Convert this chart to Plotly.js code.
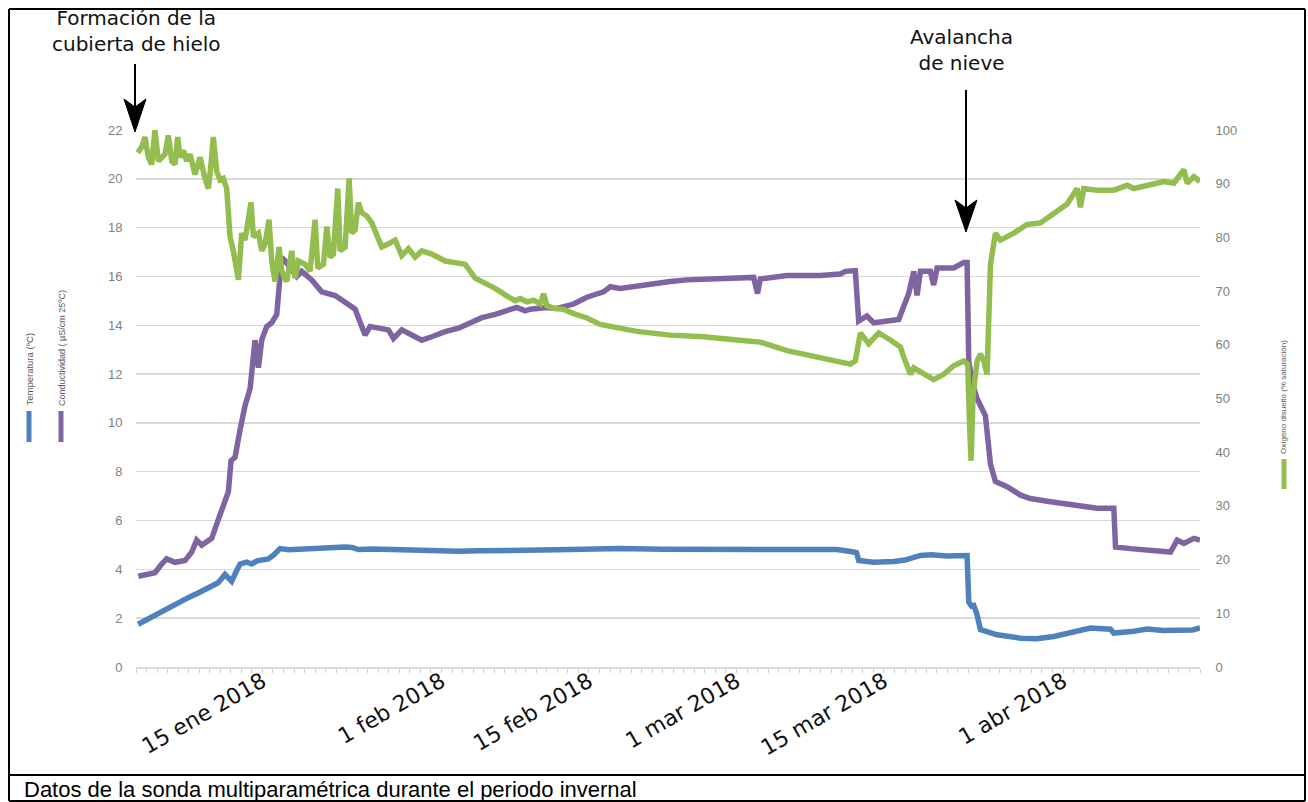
<!DOCTYPE html>
<html><head><meta charset="utf-8">
<script src="https://cdn.plot.ly/plotly-3.0.1.min.js"></script>
<style>html,body{margin:0;padding:0;background:#fff;} #chart{width:1308px;height:802px;}</style>
</head><body><div id="chart"></div>
<script>
// Día del año 2018 (1 = 1 ene)
const tickDias = [14, 31, 45, 59, 73, 90];
const tickTextos = ['15 ene 2018', '1 feb 2018', '15 feb 2018', '1 mar 2018', '15 mar 2018', '1 abr 2018'];

const diaTemp = [2.2,3.5,4.5,5.7,7.0,8.0,8.9,9.8,10.45,10.8,11.08,11.5,11.88,12.5,12.98,13.5,14.0,14.57,15.1,15.67,16.5,17.5,18.68,19.5,20.5,21.85,22.5,23.11,24.5,26.28,28.0,29.45,31.0,32.61,34.5,35.78,38.94,42.0,45.0,47.97,52.0,56.0,60.63,64.0,68.54,70.13,70.4,70.6,72.03,73.93,75.0,76.46,77.5,78.99,80.0,80.89,81.05,81.3,81.52,81.8,82.16,83.0,83.74,85.96,87.5,89.12,91.0,92.6,94.5,94.82,96.5,97.98,99.5,101.15,102.3,103.0];
const temperatura = [1.75,2.05,2.3,2.59,2.85,3.05,3.23,3.45,3.79,3.62,3.51,3.9,4.22,4.3,4.22,4.35,4.38,4.43,4.6,4.85,4.8,4.83,4.81,4.86,4.88,4.92,4.9,4.81,4.83,4.81,4.77,4.74,4.74,4.74,4.76,4.78,4.78,4.8,4.82,4.85,4.82,4.83,4.8,4.8,4.81,4.71,4.68,4.36,4.29,4.32,4.38,4.57,4.6,4.55,4.56,4.57,2.66,2.5,2.52,2.2,1.53,1.4,1.32,1.18,1.16,1.25,1.45,1.6,1.55,1.39,1.45,1.56,1.5,1.53,1.52,1.6];

const diaCond = [2.22,3.0,3.8,4.44,4.91,5.7,6.65,7.29,7.76,8.24,9.19,9.82,10.29,10.77,11.02,11.4,11.88,12.35,12.83,13.3,13.62,13.93,14.41,14.88,15.36,15.58,15.83,16.15,16.62,17.26,17.73,18.68,19.63,20.9,21.85,22.8,23.43,23.75,24.22,25.01,25.96,26.44,27.23,28.18,29.13,30.08,31.34,32.61,33.88,34.83,36.09,37.36,38.15,38.94,39.42,41.0,41.95,43.54,44.8,46.38,47.02,47.97,49.55,51.13,52.71,54.3,57.46,60.63,61.0,61.26,63.8,66.96,68.86,69.34,70.28,70.6,71.39,72.03,74.4,74.88,75.35,75.83,76.14,76.46,77.41,77.72,78.04,79.62,80.57,80.89,81.05,81.36,81.84,82.63,83.11,83.58,84.69,85.96,86.9,88.49,90.07,91.65,93.24,94.82,94.98,96.4,98.62,100.2,100.83,101.47,102.42,103.0];
const conductividad = [3.72,3.8,3.86,4.22,4.43,4.29,4.36,4.71,5.2,4.99,5.27,6.05,6.62,7.18,8.45,8.59,9.72,10.71,11.41,13.39,12.26,13.39,13.95,14.1,14.45,15.65,16.78,16.64,16.35,16.0,16.21,15.86,15.37,15.22,14.94,14.66,13.95,13.6,13.95,13.88,13.81,13.46,13.81,13.6,13.39,13.53,13.74,13.88,14.1,14.31,14.45,14.59,14.73,14.59,14.66,14.73,14.69,14.87,15.15,15.37,15.58,15.51,15.62,15.72,15.79,15.86,15.93,15.96,15.3,15.9,16.04,16.04,16.1,16.21,16.24,14.17,14.38,14.1,14.24,14.73,15.3,16.21,15.22,16.21,16.21,15.65,16.35,16.35,16.57,16.57,12.54,11.7,10.99,10.29,8.31,7.6,7.39,7.04,6.9,6.79,6.69,6.64,6.5,6.5,4.92,4.85,4.78,4.71,5.2,5.06,5.27,5.2];

const diaOxi = [2.16,2.54,2.85,3.17,3.49,3.8,4.12,4.44,4.75,5.07,5.39,5.7,5.96,6.18,6.5,6.81,7.13,7.6,8.08,8.55,8.87,9.12,9.34,9.66,9.98,10.29,10.61,10.93,11.24,11.72,12.03,12.35,12.92,13.14,13.62,13.93,14.25,14.63,14.88,15.2,15.58,15.83,16.31,16.78,17.1,17.42,18.05,18.52,19.0,19.25,19.79,20.11,20.42,20.74,21.15,21.37,21.85,22.23,22.48,22.8,23.11,23.43,23.9,24.38,25.01,25.33,25.96,26.6,27.23,27.86,28.5,29.13,30.08,30.71,31.34,32.29,33.24,34.19,35.14,36.09,37.04,37.99,38.47,39.1,39.74,40.37,40.69,41.0,41.64,42.59,43.54,44.8,46.07,47.65,49.55,52.71,55.88,59.05,61.26,63.8,66.96,69.81,70.28,70.76,71.55,72.5,73.61,74.56,74.88,75.51,75.83,76.77,77.72,78.67,79.62,80.57,80.95,81.14,81.27,81.46,81.84,82.16,82.47,82.79,83.11,83.58,84.06,85.32,86.59,87.85,89.12,90.39,91.34,91.65,91.97,93.24,94.82,96.09,96.72,97.98,99.57,100.52,101.47,101.78,102.42,103.0];
const oxigeno = [95.8,96.8,98.7,94.9,93.6,100,94.2,94.9,95.5,99.0,94.2,93.6,98.7,94.9,96.2,94.2,95.5,91.7,94.9,91.0,89.1,93.6,98.7,92.3,90.7,91.0,89.1,80.1,77.5,72.1,80.8,79.5,86.5,80.1,80.8,77.5,78.8,83.3,75.6,71.8,78.2,73.7,71.8,77.5,72.4,75.6,75.0,73.7,83.3,74.3,75.0,82.0,76.3,76.9,89.1,77.5,78.2,91.0,80.8,81.4,86.5,84.6,84.0,82.7,80.1,78.2,78.8,79.5,76.6,77.9,76.3,77.5,76.9,76.3,75.6,75.3,75.0,72.4,71.5,70.5,69.3,68.2,68.6,68.0,68.3,67.6,69.5,67.3,66.8,66.6,65.8,65.0,63.8,63.1,62.5,61.8,61.5,60.9,60.5,58.9,57.7,56.4,57.0,62.2,60.2,62.2,60.9,59.6,57.7,54.5,55.7,54.5,53.5,54.5,56.1,57.0,56.4,44.2,38.4,50.6,57.0,58.3,57.0,54.5,75.0,80.8,79.5,80.8,82.4,82.7,84.3,86.2,89.1,85.6,89.1,88.8,88.8,89.7,89.1,89.7,90.4,90.1,92.6,90.1,91.3,90.4];

const azul = '#4f81bd', morado = '#8064a2', verde = '#93bd4f';

const trazas = [
  {x: diaOxi, y: oxigeno, yaxis: 'y2', type: 'scatter', mode: 'lines', line: {color: verde, width: 5.5}},
  {x: diaCond, y: conductividad, type: 'scatter', mode: 'lines', line: {color: morado, width: 5.5}},
  {x: diaTemp, y: temperatura, type: 'scatter', mode: 'lines', line: {color: azul, width: 5.5}}
];

// pixel helpers for layout placement (plot area: x 136..1200, y 130..667)
const L = 136, R = 1200, T = 130, B = 667;
const px = v => (v - L) / (R - L);
const py = v => (B - v) / (B - T);
const pt = (x, y) => px(x).toFixed(5) + ',' + py(y).toFixed(5);
// dart-shaped arrow head (tip x,y; length; half width)
const cabeza = (x, y, len, hw) => 'M' + pt(x, y) + ' L' + pt(x - hw, y - len) + ' L' + pt(x, y - len + 8) + ' L' + pt(x + hw, y - len) + ' Z';

const grayFont = {family: 'Liberation Sans, Arial, sans-serif', size: 13, color: '#7f7f7f'};
const borde = {color: '#000', width: 2};

const layout = {
  width: 1308, height: 802, autosize: false,
  paper_bgcolor: '#fff', plot_bgcolor: '#fff',
  margin: {l: L, r: 1308 - R, t: T, b: 802 - B, pad: 0},
  showlegend: false,
  xaxis: {
    range: [2, 103], tickmode: 'array', tickvals: tickDias, ticktext: tickTextos,
    tickangle: -30, tickfont: {family: 'DejaVu Sans, sans-serif', size: 22, color: '#111'},
    ticklabelstandoff: -13,
    ticks: 'outside', ticklen: 4, tickcolor: '#d0d0d0', tickwidth: 1,
    minor: {tick0: 0, dtick: 1, ticks: 'outside', ticklen: 4, tickcolor: '#d0d0d0', tickwidth: 1, showgrid: false},
    showgrid: false, zeroline: false, showline: true, linecolor: '#d9d9d9', linewidth: 2
  },
  yaxis: {
    range: [0, 22], dtick: 2, tick0: 0, showgrid: true, gridcolor: '#d9d9d9', gridwidth: 1.5,
    zeroline: false, showline: false, ticks: 'outside', ticklen: 10, tickcolor: 'rgba(0,0,0,0)',
    tickfont: grayFont
  },
  yaxis2: {
    range: [0, 100], dtick: 10, tick0: 0, overlaying: 'y', side: 'right', showgrid: false,
    zeroline: false, showline: false, ticks: 'outside', ticklen: 12, tickcolor: 'rgba(0,0,0,0)',
    tickfont: grayFont
  },
  shapes: [
    {type: 'line', xref: 'paper', yref: 'paper', x0: px(9), x1: px(1305), y0: py(9), y1: py(9), line: borde},
    {type: 'line', xref: 'paper', yref: 'paper', x0: px(9), x1: px(9), y0: py(9), y1: py(801), line: borde},
    {type: 'line', xref: 'paper', yref: 'paper', x0: px(1305), x1: px(1305), y0: py(9), y1: py(801), line: borde},
    {type: 'line', xref: 'paper', yref: 'paper', x0: px(9), x1: px(1305), y0: py(775), y1: py(775), line: borde},
    {type: 'line', xref: 'paper', yref: 'paper', x0: px(9), x1: px(1305), y0: py(801), y1: py(801), line: borde},
    {type: 'line', xref: 'paper', yref: 'paper', x0: px(29), x1: px(29), y0: py(411), y1: py(442), line: {color: azul, width: 5}},
    {type: 'line', xref: 'paper', yref: 'paper', x0: px(61), x1: px(61), y0: py(411), y1: py(442), line: {color: morado, width: 5}},
    {type: 'line', xref: 'paper', yref: 'paper', x0: px(1284), x1: px(1284), y0: py(459), y1: py(489), line: {color: verde, width: 5}},
    // flechas
    {type: 'line', xref: 'paper', yref: 'paper', x0: px(135), x1: px(135), y0: py(64), y1: py(110), line: borde},
    {type: 'path', xref: 'paper', yref: 'paper', path: cabeza(135, 132, 33, 11), fillcolor: '#000', line: {color: '#000', width: 1}},
    {type: 'line', xref: 'paper', yref: 'paper', x0: px(966), x1: px(966), y0: py(90), y1: py(212), line: borde},
    {type: 'path', xref: 'paper', yref: 'paper', path: cabeza(966, 232, 32, 11), fillcolor: '#000', line: {color: '#000', width: 1}}
  ],
  annotations: [
    {xref: 'paper', yref: 'paper', x: px(136), y: py(31), text: 'Formación de la<br>cubierta de hielo', showarrow: false,
     xanchor: 'center', yanchor: 'middle', font: {family: 'DejaVu Sans, sans-serif', size: 20, color: '#111'}},
    {xref: 'paper', yref: 'paper', x: px(961), y: py(50), text: 'Avalancha<br>de nieve', showarrow: false,
     xanchor: 'center', yanchor: 'middle', font: {family: 'DejaVu Sans, sans-serif', size: 20, color: '#111'}},
    {xref: 'paper', yref: 'paper', x: px(29), y: py(408), text: 'Temperatura (ºC)', textangle: -90, showarrow: false,
     xanchor: 'center', yanchor: 'bottom', font: {family: 'Liberation Sans, Arial, sans-serif', size: 9.5, color: '#595959'}},
    {xref: 'paper', yref: 'paper', x: px(62), y: py(408), text: 'Conductividad ( µS/cm 25ºC)', textangle: -90, showarrow: false,
     xanchor: 'center', yanchor: 'bottom', font: {family: 'Liberation Sans, Arial, sans-serif', size: 9, color: '#595959'}},
    {xref: 'paper', yref: 'paper', x: px(1283), y: py(456), text: 'Oxígeno disuelto (% saturación)', textangle: -90, showarrow: false,
     xanchor: 'center', yanchor: 'bottom', font: {family: 'Liberation Sans, Arial, sans-serif', size: 8, color: '#595959'}},
    {xref: 'paper', yref: 'paper', x: px(22), y: py(789), text: 'Datos de la sonda multiparamétrica durante el periodo invernal', showarrow: false,
     xanchor: 'left', yanchor: 'middle', font: {family: 'Liberation Sans, Arial, sans-serif', size: 22, color: '#000'}}
  ]
};

Plotly.newPlot('chart', trazas, layout, {displayModeBar: false, staticPlot: true});
</script>
</body></html>
